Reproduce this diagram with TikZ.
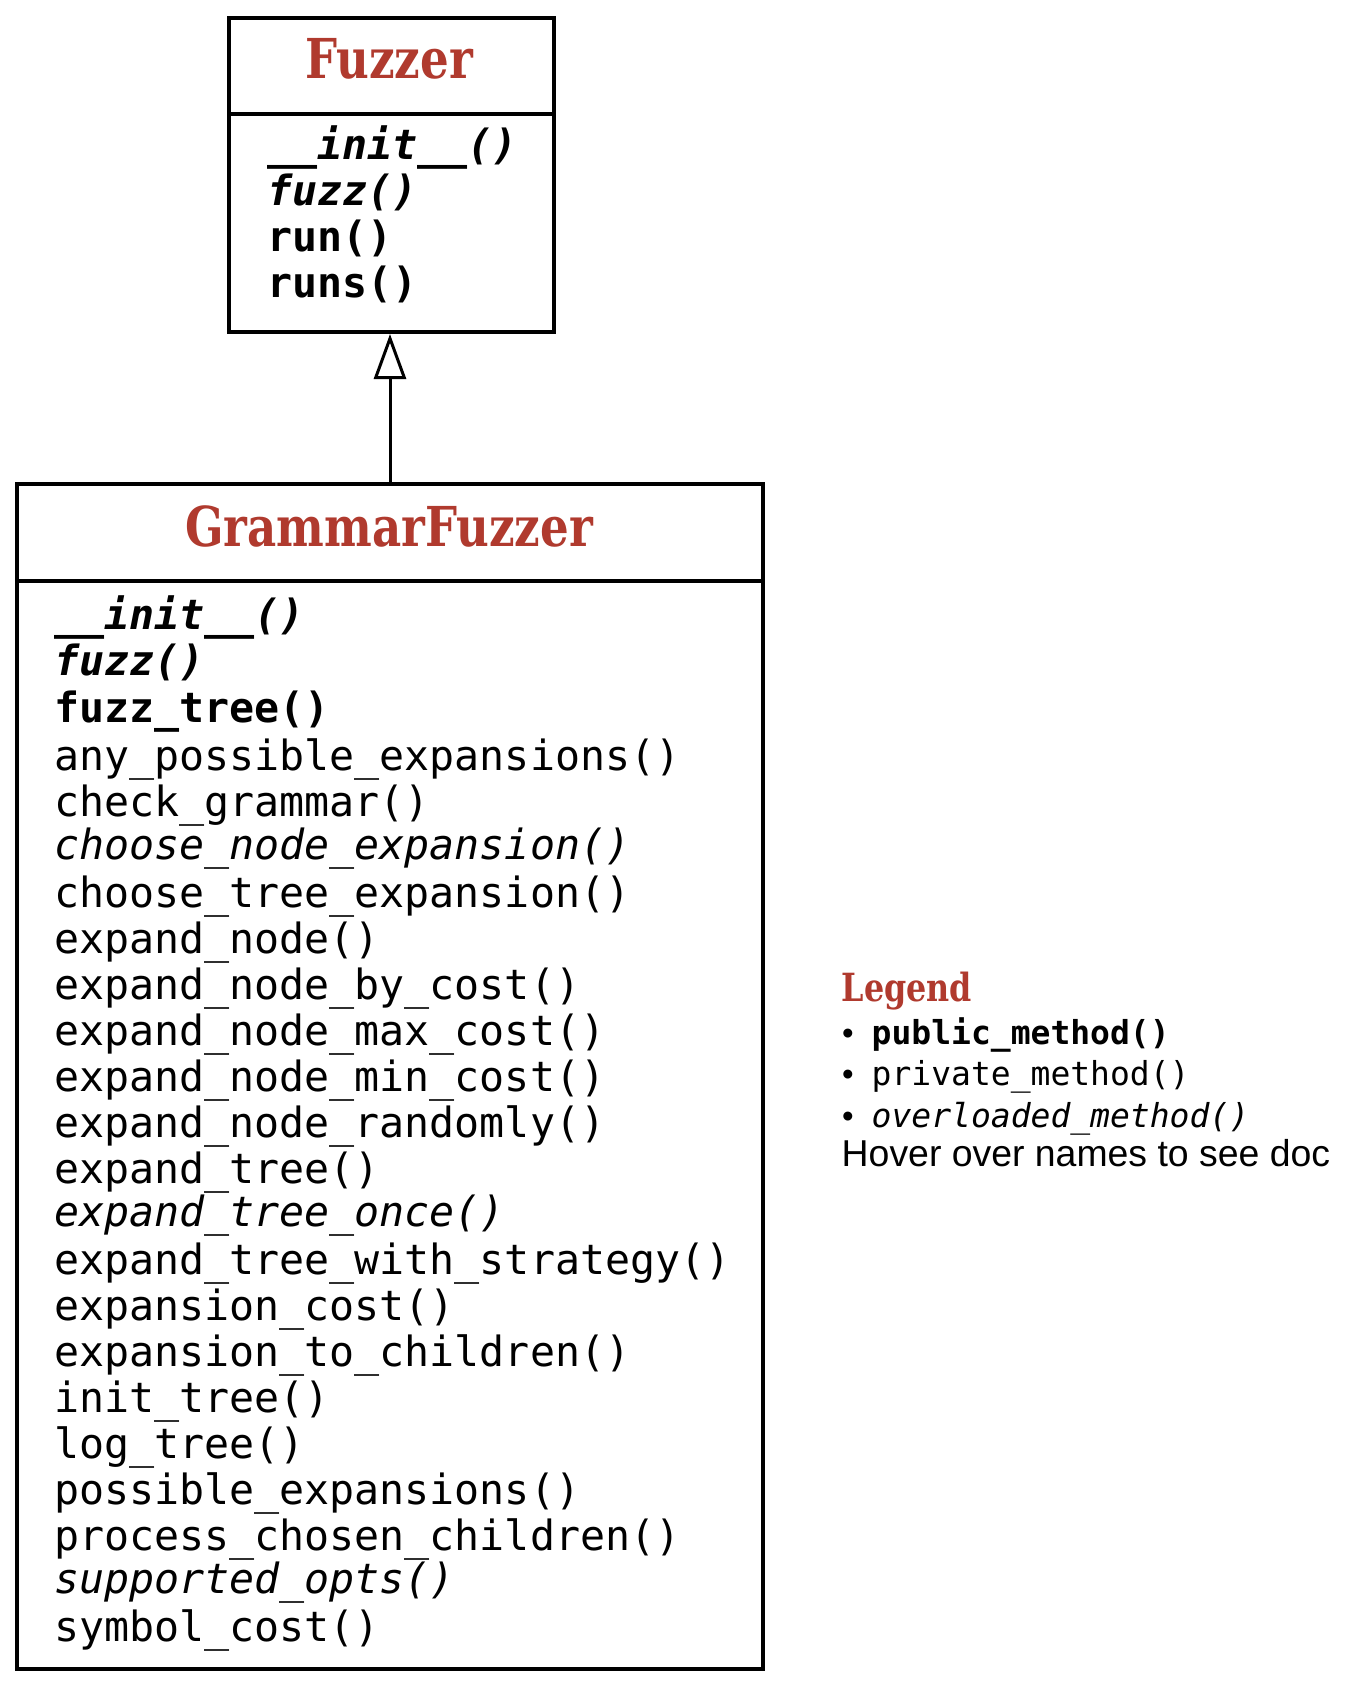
\documentclass[tikz,border=0pt]{standalone}
\usepackage{fontspec}
\usetikzlibrary{arrows.meta}
\newfontfamily\codefont{DejaVu Sans Mono}
\newfontfamily\slabfont[FakeStretch=0.82]{DejaVu Serif}
\newfontfamily\plainsans{Liberation Sans}
\definecolor{classred}{HTML}{B03A2E}

\tikzset{
  classbox/.style={draw=black, line width=4pt, fill=white, inner sep=0pt},
  divider/.style={line width=4pt},
  classtitle/.style={anchor=base, inner sep=0pt, text=classred,
    font=\slabfont\bfseries\fontsize{55}{60}\selectfont},
  member/.style={anchor=base west, inner sep=0pt,
    font=\codefont\fontsize{41.6}{46}\selectfont},
  pubm/.style={member, font=\codefont\bfseries\fontsize{41.6}{46}\selectfont},
  privm/.style={member},
  overm/.style={member, font=\codefont\itshape\fontsize{41.6}{46}\selectfont},
  pubover/.style={member, font=\codefont\bfseries\itshape\fontsize{41.6}{46}\selectfont},
  legtitle/.style={anchor=base west, inner sep=0pt, text=classred,
    font=\slabfont\bfseries\fontsize{38.8}{42}\selectfont},
  legitem/.style={anchor=base west, inner sep=0pt,
    font=\codefont\fontsize{33}{36}\selectfont},
  legbullet/.style={anchor=base west, inner sep=0pt,
    font=\plainsans\fontsize{33}{36}\selectfont},
  legnote/.style={anchor=base west, inner sep=0pt,
    font=\plainsans\fontsize{37.4}{40}\selectfont},
  inherit/.style={line width=3pt,
    -{Triangle[open, length=45pt, width=32pt, line width=3pt]}}
}

\begin{document}
\begin{tikzpicture}[x=1pt, y=-1pt]
\useasboundingbox (0,0) rectangle (1358,1687);

% Fuzzer class
\node[classbox, minimum width=325pt, minimum height=314pt] (fz) at (391.5,175) {};
\draw[divider] (fz.west |- 0,114) -- (fz.east |- 0,114);
\node[classtitle] (fztitle) at (389,78.6) {Fuzzer};
\node[pubover] (fz1) at (267,159) {\_\_init\_\_()};
\node[pubover] (fz2) at (267,205) {fuzz()};
\node[pubm]    (fz3) at (267,251) {run()};
\node[pubm]    (fz4) at (267,297) {runs()};

% GrammarFuzzer class
\node[classbox, minimum width=746pt, minimum height=1185pt] (gf) at (390,1076.5) {};
\draw[divider] (gf.west |- 0,581) -- (gf.east |- 0,581);
\node[classtitle] (gftitle) at (389,546) {GrammarFuzzer};
\node[pubover] (m1)  at (54,629.5)  {\_\_init\_\_()};
\node[pubover] (m2)  at (54,675.5)  {fuzz()};
\node[pubm]    (m3)  at (54,722.5)  {fuzz\_tree()};
\node[privm]   (m4)  at (54,770)    {any\_possible\_expansions()};
\node[privm]   (m5)  at (54,816)    {check\_grammar()};
\node[overm]   (m6)  at (54,859)    {choose\_node\_expansion()};
\node[privm]   (m7)  at (54,907)    {choose\_tree\_expansion()};
\node[privm]   (m8)  at (54,953)    {expand\_node()};
\node[privm]   (m9)  at (54,999)    {expand\_node\_by\_cost()};
\node[privm]   (m10) at (54,1045)   {expand\_node\_max\_cost()};
\node[privm]   (m11) at (54,1091)   {expand\_node\_min\_cost()};
\node[privm]   (m12) at (54,1137)   {expand\_node\_randomly()};
\node[privm]   (m13) at (54,1183)   {expand\_tree()};
\node[overm]   (m14) at (54,1226.5) {expand\_tree\_once()};
\node[privm]   (m15) at (54,1274.5) {expand\_tree\_with\_strategy()};
\node[privm]   (m16) at (54,1320.5) {expansion\_cost()};
\node[privm]   (m17) at (54,1366.5) {expansion\_to\_children()};
\node[privm]   (m18) at (54,1412)   {init\_tree()};
\node[privm]   (m19) at (54,1458)   {log\_tree()};
\node[privm]   (m20) at (54,1504)   {possible\_expansions()};
\node[privm]   (m21) at (54,1550)   {process\_chosen\_children()};
\node[overm]   (m22) at (54,1593.5) {supported\_opts()};
\node[privm]   (m23) at (54,1641.5) {symbol\_cost()};

% inheritance: GrammarFuzzer -> Fuzzer
\draw[inherit] (gf.north) -- (gf.north |- fz.south);

% legend
\node[legtitle]  (lg)  at (841.5,1001) {Legend};
\node[legbullet] (lb1) at (842,1044) {\textbullet};
\node[legitem, font=\codefont\bfseries\fontsize{33}{36}\selectfont] (l1) at (871.5,1044) {public\_method()};
\node[legbullet] (lb2) at (842,1085.5) {\textbullet};
\node[legitem] (l2) at (871.5,1085.5) {private\_method()};
\node[legbullet] (lb3) at (842,1127) {\textbullet};
\node[legitem, font=\codefont\itshape\fontsize{33}{36}\selectfont] (l3) at (871.5,1127) {overloaded\_method()};
\node[legnote] (l4) at (841.5,1166.5) {Hover over names to see doc};
\end{tikzpicture}
\end{document}
